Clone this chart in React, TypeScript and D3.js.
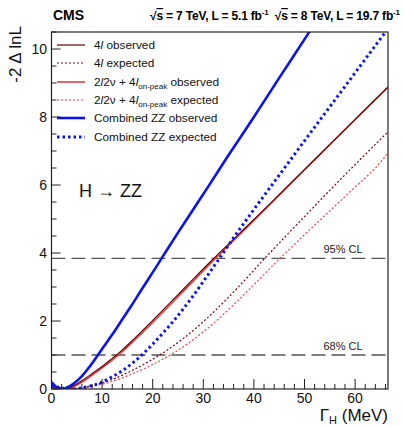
import { useRef, useEffect } from "react"
import * as d3 from "d3";

// -2 Delta lnL scans vs Higgs width (MeV)
const obsCombGamma = [0, 1, 2, 4, 6, 8, 10, 12, 14, 16, 18, 20, 22, 25, 28, 31, 35, 40, 45, 50.5, 53];
const obsCombVals = [0.2, 0.05, 0.0, 0.12, 0.38, 0.75, 1.18, 1.6, 2.05, 2.5, 2.97, 3.43, 3.9, 4.6, 5.28, 5.96, 6.88, 8.0, 9.15, 10.4, 10.98];

const expCombGamma = [0, 2, 4.15, 6, 8, 10, 12, 14, 16, 18, 20, 22, 24, 26, 28, 30, 33, 36, 40, 45, 50, 55, 60, 66.5];
const expCombVals = [0.1, 0.03, 0, 0.03, 0.1, 0.2, 0.36, 0.54, 0.76, 1.02, 1.32, 1.64, 1.98, 2.35, 2.74, 3.16, 3.8, 4.45, 5.28, 6.29, 7.3, 8.3, 9.3, 10.6];

const obs4lGamma = [0, 2, 4, 6, 8, 10, 12, 14, 16, 20, 24, 28, 32, 36, 40, 44, 48, 52, 56, 60, 64, 66.5];
const obs4lVals = [0.06, 0.0, 0.07, 0.24, 0.45, 0.66, 0.9, 1.15, 1.43, 2.02, 2.62, 3.23, 3.83, 4.41, 4.99, 5.57, 6.16, 6.75, 7.34, 7.93, 8.52, 8.88];

const obs2l2nuGamma = [0, 2, 4, 6, 8, 10, 12, 14, 16, 20, 24, 28, 32, 36, 40, 44, 48, 52, 56, 60, 64, 66.5];
const obs2l2nuVals = [0.05, 0.0, 0.05, 0.2, 0.4, 0.62, 0.85, 1.1, 1.38, 1.96, 2.56, 3.17, 3.78, 4.37, 4.96, 5.55, 6.15, 6.74, 7.33, 7.92, 8.51, 8.88];

const exp4lGamma = [0, 4, 8, 12, 16, 20, 22, 26, 30, 34, 38, 42, 46, 50, 54, 58, 62, 66.5];
const exp4lVals = [0.1, 0, 0.1, 0.28, 0.55, 0.88, 1.06, 1.48, 1.98, 2.55, 3.17, 3.82, 4.45, 5.07, 5.69, 6.3, 6.9, 7.56];

const exp2l2nuGamma = [0, 4, 8, 12, 16, 20, 24, 28, 32, 36, 40, 44, 48, 52, 56, 60, 64, 66.5];
const exp2l2nuVals = [0.1, 0, 0.08, 0.22, 0.45, 0.72, 1.05, 1.45, 1.93, 2.48, 3.07, 3.67, 4.25, 4.82, 5.38, 5.94, 6.5, 6.94];

const xTicks = [0, 10, 20, 30, 40, 50, 60];
const yTicks = [0, 2, 4, 6, 8, 10];
const clLevels = [1, 3.84];
const clLabels = ["68% CL", "95% CL"];

export default function App() {
    const ref = useRef(null);

    useEffect(() => {
        const svg = d3.select(ref.current);
        svg.selectAll("*").remove();

        const left = 51.5, right = 388, top = 32, bottom = 389;
        const font = "Liberation Sans, Arial, sans-serif";

        const x = d3.scaleLinear().domain([0, 66.5]).range([left, right]);
        const y = d3.scaleLinear().domain([0, 10.5]).range([bottom, top]);

        svg.append("rect").attr("width", 404).attr("height", 426).attr("fill", "white");

        svg.append("defs").append("clipPath").attr("id", "plotclip")
            .append("rect")
            .attr("x", left).attr("y", top)
            .attr("width", right - left).attr("height", bottom - top);

        // CL lines
        svg.selectAll(".cl").data(clLevels).enter().append("line")
            .attr("x1", left).attr("x2", right)
            .attr("y1", d => y(d)).attr("y2", d => y(d))
            .attr("stroke", "#555").attr("stroke-width", 1.3)
            .attr("stroke-dasharray", "14,6");

        svg.selectAll(".cltext").data(clLevels).enter().append("text")
            .attr("x", 343).attr("y", d => y(d) - 5)
            .attr("text-anchor", "middle")
            .attr("font-family", font).attr("font-size", 11).attr("fill", "#222")
            .text((d, i) => clLabels[i]);

        const series = [
            { g: exp2l2nuGamma, v: exp2l2nuVals, color: "#e8474a", width: 1.2, dash: "2,2" },
            { g: exp4lGamma, v: exp4lVals, color: "#7d0a0a", width: 1.2, dash: "2,2" },
            { g: obs2l2nuGamma, v: obs2l2nuVals, color: "#d9413f", width: 1.6, dash: null },
            { g: obs4lGamma, v: obs4lVals, color: "#6e0000", width: 1.2, dash: null },
            { g: expCombGamma, v: expCombVals, color: "#0a14f0", width: 3, dash: "2.5,3" },
            { g: obsCombGamma, v: obsCombVals, color: "#0a14f0", width: 2.6, dash: null },
        ];

        const line = d3.line()
            .x(d => x(d[0]))
            .y(d => y(d[1]))
            .curve(d3.curveMonotoneX);

        const plot = svg.append("g").attr("clip-path", "url(#plotclip)");
        series.forEach(s => {
            plot.append("path")
                .datum(s.g.map((g, i) => [g, s.v[i]]))
                .attr("fill", "none")
                .attr("stroke", s.color)
                .attr("stroke-width", s.width)
                .attr("stroke-dasharray", s.dash)
                .attr("d", line);
        });

        // frame
        svg.append("rect")
            .attr("x", left).attr("y", top)
            .attr("width", right - left).attr("height", bottom - top)
            .attr("fill", "none").attr("stroke", "#222").attr("stroke-width", 1.2);

        // x axis ticks
        const xMinor = d3.range(0, 66.5, 2);
        svg.selectAll(".xminor").data(xMinor).enter().append("line")
            .attr("x1", d => x(d)).attr("x2", d => x(d))
            .attr("y1", bottom).attr("y2", d => bottom - (d % 10 === 0 ? 10 : 5))
            .attr("stroke", "#222").attr("stroke-width", 1);
        svg.selectAll(".xlab").data(xTicks).enter().append("text")
            .attr("x", d => x(d)).attr("y", 403)
            .attr("text-anchor", "middle")
            .attr("font-family", font).attr("font-size", 14).attr("fill", "#111")
            .text(d => d);

        // y axis ticks
        const yMinor = d3.range(0, 10.51, 0.5);
        svg.selectAll(".yminor").data(yMinor).enter().append("line")
            .attr("x1", left).attr("x2", d => left + (d % 2 === 0 ? 9 : 5))
            .attr("y1", d => y(d)).attr("y2", d => y(d))
            .attr("stroke", "#222").attr("stroke-width", 1);
        svg.selectAll(".ylab").data(yTicks).enter().append("text")
            .attr("x", 47).attr("y", d => y(d) + 5)
            .attr("text-anchor", "end")
            .attr("font-family", font).attr("font-size", 14).attr("fill", "#111")
            .text(d => d);

        // axis titles
        const xt = svg.append("text")
            .attr("x", right).attr("y", 421)
            .attr("text-anchor", "end")
            .attr("font-family", font).attr("font-size", 17).attr("fill", "#111");
        xt.append("tspan").text("Γ");
        xt.append("tspan").attr("font-size", 11).attr("dy", 3).text("H");
        xt.append("tspan").attr("dy", -3).text(" (MeV)");

        svg.append("text")
            .attr("transform", "translate(21,26) rotate(-90)")
            .attr("text-anchor", "end")
            .attr("font-family", font).attr("font-size", 17).attr("fill", "#111")
            .text("-2 Δ lnL");

        // header
        svg.append("text")
            .attr("x", 53).attr("y", 20)
            .attr("font-family", font).attr("font-size", 14).attr("font-weight", "bold")
            .text("CMS");
        const hd = svg.append("text")
            .attr("x", 150).attr("y", 20)
            .attr("textLength", 250).attr("lengthAdjust", "spacing")
            .attr("font-family", font).attr("font-size", 12).attr("font-weight", "bold");
        hd.append("tspan").text("√");
        hd.append("tspan").attr("text-decoration", "overline").text("s");
        hd.append("tspan").text(" = 7 TeV, L = 5.1 fb");
        hd.append("tspan").attr("font-size", 8).attr("dy", -5).text("-1");
        hd.append("tspan").attr("dy", 5).text("\u00a0\u00a0√");
        hd.append("tspan").attr("text-decoration", "overline").text("s");
        hd.append("tspan").text(" = 8 TeV, L = 19.7 fb");
        hd.append("tspan").attr("font-size", 8).attr("dy", -5).text("-1");

        svg.append("text")
            .attr("x", 79).attr("y", 197)
            .attr("font-family", font).attr("font-size", 18).attr("fill", "#111")
            .text("H → ZZ");

        // legend
        const legend = [
            { color: "#6e0000", width: 1.2, dash: null, label: [["4", null], ["l", "italic"], [" observed", null]] },
            { color: "#7d0a0a", width: 1.2, dash: "2,2", label: [["4", null], ["l", "italic"], [" expected", null]] },
            { color: "#d9413f", width: 1.6, dash: null, label: [["2", null], ["l", "italic"], ["2ν + 4", null], ["l", "italic"], ["on-peak", "sub"], [" observed", null]] },
            { color: "#e8474a", width: 1.2, dash: "2,2", label: [["2", null], ["l", "italic"], ["2ν + 4", null], ["l", "italic"], ["on-peak", "sub"], [" expected", null]] },
            { color: "#0a14f0", width: 2.6, dash: null, label: [["Combined ZZ observed", null]] },
            { color: "#0a14f0", width: 3, dash: "2.5,3", label: [["Combined ZZ expected", null]] },
        ];
        const ly = [45, 63, 82, 100, 118, 137];
        legend.forEach((d, i) => {
            svg.append("line")
                .attr("x1", 57).attr("x2", 85)
                .attr("y1", ly[i]).attr("y2", ly[i])
                .attr("stroke", d.color).attr("stroke-width", d.width)
                .attr("stroke-dasharray", d.dash);
            const t = svg.append("text")
                .attr("x", 94).attr("y", ly[i] + 4)
                .attr("font-family", font).attr("font-size", 11.8).attr("fill", "#111");
            let sub = false;
            d.label.forEach(p => {
                const ts = t.append("tspan").text(p[0]);
                if (p[1] === "italic") ts.attr("font-style", "italic");
                if (p[1] === "sub") { ts.attr("font-size", 8).attr("dy", 3); sub = true; }
                else if (sub) { ts.attr("dy", -3); sub = false; }
            });
        });
    }, []);

    return (
        <svg ref={ref} width={404} height={426} style={{ position: "absolute", left: 0, top: 0 }}></svg>
    )
}
